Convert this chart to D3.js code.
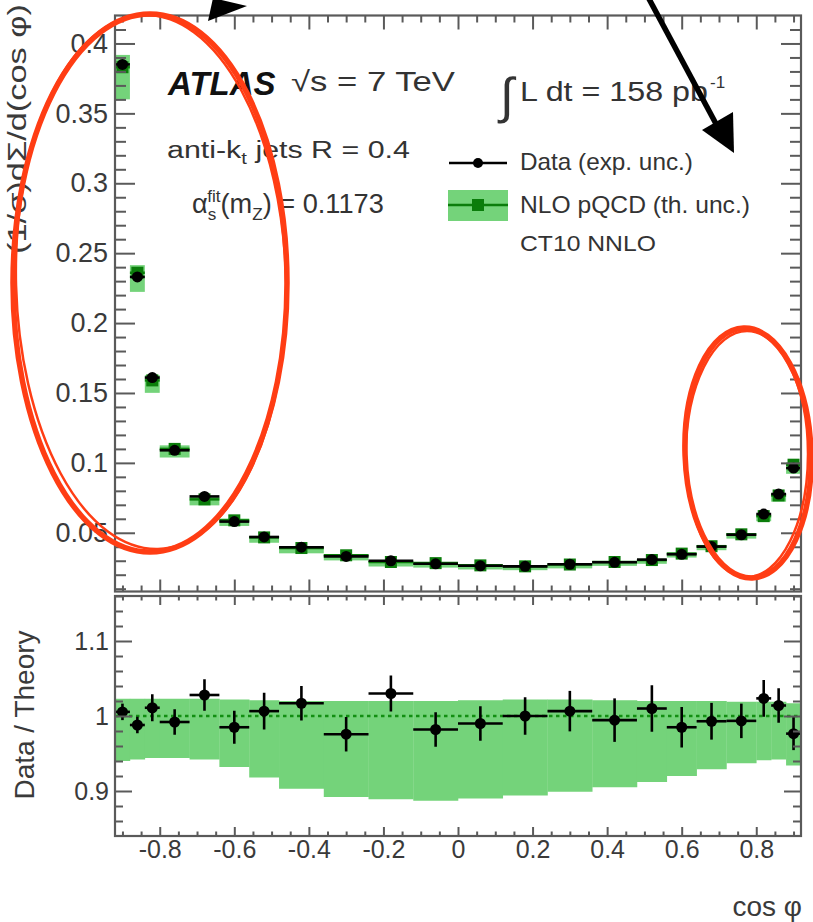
<!DOCTYPE html>
<html><head><meta charset="utf-8">
<script src="https://cdn.jsdelivr.net/npm/d3@7"></script>
<style>html,body{margin:0;padding:0;background:#fff}svg{display:block}</style>
</head><body>
<svg id="c" width="813" height="922"></svg>
<script>
// ---- data ----
const binEdges = [-0.92,-0.88,-0.84,-0.80,-0.72,-0.64,-0.56,-0.48,-0.36,-0.24,-0.12,0,0.12,0.24,0.36,0.48,0.56,0.64,0.72,0.80,0.84,0.88,0.92];
const dataValues = [0.385,0.233,0.161,0.109,0.076,0.058,0.047,0.0397,0.0331,0.0300,0.0278,0.0264,0.0260,0.0275,0.0289,0.0308,0.0346,0.0401,0.0486,0.0634,0.0777,0.0963];
const theoryValues = [0.383,0.236,0.159,0.110,0.0739,0.0589,0.0467,0.0391,0.0339,0.0291,0.0283,0.0267,0.0260,0.0273,0.0291,0.0305,0.0351,0.0404,0.0489,0.0619,0.0767,0.0987];
const ratioValues = [1.0055,0.988,1.011,0.992,1.028,0.985,1.0065,1.017,0.9757,1.030,0.982,0.990,1.000,1.0065,0.9945,1.010,0.985,0.993,0.9935,1.0235,1.014,0.9765];
const ratioErrors = [0.011,0.011,0.018,0.017,0.021,0.022,0.0245,0.023,0.023,0.024,0.023,0.023,0.025,0.027,0.029,0.031,0.027,0.0245,0.023,0.0245,0.023,0.022];
const bandLow = [0.940,0.942,0.944,0.944,0.942,0.932,0.918,0.903,0.892,0.889,0.887,0.890,0.894,0.899,0.905,0.912,0.920,0.929,0.937,0.941,0.942,0.934];
const bandHigh = [1.023,1.023,1.023,1.023,1.023,1.022,1.021,1.020,1.020,1.020,1.020,1.021,1.022,1.022,1.021,1.020,1.020,1.020,1.019,1.019,1.019,1.017];

const xMajorTicks = [-0.8,-0.6,-0.4,-0.2,0,0.2,0.4,0.6,0.8];
const xTickLabels = ["-0.8","-0.6","-0.4","-0.2","0","0.2","0.4","0.6","0.8"];
const xMinorTicks = [-0.9,-0.85,-0.75,-0.7,-0.65,-0.55,-0.5,-0.45,-0.35,-0.3,-0.25,-0.15,-0.1,-0.05,0.05,0.1,0.15,0.25,0.3,0.35,0.45,0.5,0.55,0.65,0.7,0.75,0.85,0.9];
const upperYTicks = [0.05,0.1,0.15,0.2,0.25,0.3,0.35,0.4];
const upperYTickLabels = ["0.05","0.1","0.15","0.2","0.25","0.3","0.35","0.4"];
const upperYMinor = [0.01,0.02,0.03,0.04,0.06,0.07,0.08,0.09,0.11,0.12,0.13,0.14,0.16,0.17,0.18,0.19,0.21,0.22,0.23,0.24,0.26,0.27,0.28,0.29,0.31,0.32,0.33,0.34,0.36,0.37,0.38,0.39,0.41];
const lowerYTicks = [0.9,1.0,1.1];
const lowerYTickLabels = ["0.9","1","1.1"];
const lowerYMinor = [0.86,0.88,0.92,0.94,0.96,0.98,1.02,1.04,1.06,1.08,1.12,1.14,1.16];

// ---- layout ----
const FONT = "'Liberation Sans', Arial, Helvetica, sans-serif";
const L = 115, R = 801;
const uTop = 15.5, uBot = 591.5, lTop = 596, lBot = 836;
const GREEN = "#74d37a", DKGREEN = "#0b7d0b", AXC = "#5a5a5a", TXT = "#3a3a3a";

const svg = d3.select("#c");
const x = d3.scaleLinear([-0.92, 0.92], [L, R]);
const yU = d3.scaleLinear([0.008, 0.42], [uBot, uTop]);
const yL = d3.scaleLinear([0.84, 1.16], [lBot, lTop]);

const bins = dataValues.map((d, i) => ({
  lo: binEdges[i], hi: binEdges[i + 1], mid: (binEdges[i] + binEdges[i + 1]) / 2,
  data: d, th: theoryValues[i], r: ratioValues[i], re: ratioErrors[i], bl: bandLow[i], bh: bandHigh[i]
}));

// ---- lower panel band ----
const lower = svg.append("g");
lower.selectAll("rect.band").data(bins).join("rect")
  .attr("x", d => x(d.lo)).attr("width", d => x(d.hi) - x(d.lo) + 0.3)
  .attr("y", d => yL(d.bh)).attr("height", d => yL(d.bl) - yL(d.bh))
  .attr("fill", GREEN);
lower.append("line").attr("x1", L).attr("x2", R).attr("y1", yL(1)).attr("y2", yL(1))
  .attr("stroke", "#128f12").attr("stroke-width", 2.5).attr("stroke-dasharray", "3.5,3.5");
const lp = lower.selectAll("g.pt").data(bins).join("g");
lp.append("line").attr("x1", d => x(d.lo)).attr("x2", d => x(d.hi))
  .attr("y1", d => yL(d.r)).attr("y2", d => yL(d.r)).attr("stroke", "#000").attr("stroke-width", 2.6);
lp.append("line").attr("x1", d => x(d.mid)).attr("x2", d => x(d.mid))
  .attr("y1", d => yL(d.r - d.re)).attr("y2", d => yL(d.r + d.re)).attr("stroke", "#000").attr("stroke-width", 2.6);
lp.append("circle").attr("cx", d => x(d.mid)).attr("cy", d => yL(d.r)).attr("r", 5.5).attr("fill", "#000");

// ---- upper panel ----
const upper = svg.append("g");
upper.selectAll("rect.th").data(bins).join("rect")
  .attr("x", d => x(d.lo)).attr("width", d => x(d.hi) - x(d.lo))
  .attr("y", d => yU(d.th * d.bh)).attr("height", d => yU(d.th * d.bl) - yU(d.th * d.bh))
  .attr("fill", GREEN);
upper.selectAll("line.th").data(bins).join("line")
  .attr("x1", d => x(d.lo)).attr("x2", d => x(d.hi))
  .attr("y1", d => yU(d.th)).attr("y2", d => yU(d.th)).attr("stroke", DKGREEN).attr("stroke-width", 2.5);
upper.selectAll("rect.thm").data(bins).join("rect")
  .attr("x", d => x(d.mid) - 6).attr("y", d => yU(d.th) - 6).attr("width", 12).attr("height", 12)
  .attr("fill", DKGREEN);
upper.selectAll("line.dt").data(bins).join("line")
  .attr("x1", d => x(d.lo)).attr("x2", d => x(d.hi))
  .attr("y1", d => yU(d.data)).attr("y2", d => yU(d.data)).attr("stroke", "#000").attr("stroke-width", 2.6);
upper.selectAll("circle.dt").data(bins).join("circle")
  .attr("cx", d => x(d.mid)).attr("cy", d => yU(d.data)).attr("r", 5.5).attr("fill", "#000");

// ---- axes ----
function styleAxis(g, size) {
  g.select(".domain").remove();
  g.selectAll("line").attr("stroke", AXC).attr("stroke-width", 2);
  g.selectAll("text").attr("fill", TXT).style("font-family", FONT).style("font-size", size ? size + "px" : null);
}
// upper y
svg.append("g").attr("transform", `translate(${L},0)`)
  .call(d3.axisLeft(yU).tickValues(upperYTicks).tickSize(-20).tickPadding(7).tickFormat((d, i) => upperYTickLabels[i]))
  .call(g => styleAxis(g, 27));
svg.append("g").attr("transform", `translate(${L},0)`)
  .call(d3.axisLeft(yU).tickValues(upperYMinor).tickSize(-11).tickFormat(""))
  .call(g => styleAxis(g));
svg.append("g").attr("transform", `translate(${R},0)`)
  .call(d3.axisRight(yU).tickValues(upperYTicks).tickSize(-20).tickFormat(""))
  .call(g => styleAxis(g));
svg.append("g").attr("transform", `translate(${R},0)`)
  .call(d3.axisRight(yU).tickValues(upperYMinor).tickSize(-11).tickFormat(""))
  .call(g => styleAxis(g));
// upper x
svg.append("g").attr("transform", `translate(0,${uTop})`)
  .call(d3.axisTop(x).tickValues(xMajorTicks).tickSize(-14).tickFormat("")).call(g => styleAxis(g));
svg.append("g").attr("transform", `translate(0,${uTop})`)
  .call(d3.axisTop(x).tickValues(xMinorTicks).tickSize(-7).tickFormat("")).call(g => styleAxis(g));
svg.append("g").attr("transform", `translate(0,${uBot})`)
  .call(d3.axisBottom(x).tickValues(xMajorTicks).tickSize(-12).tickFormat("")).call(g => styleAxis(g));
svg.append("g").attr("transform", `translate(0,${uBot})`)
  .call(d3.axisBottom(x).tickValues(xMinorTicks).tickSize(-6).tickFormat("")).call(g => styleAxis(g));
// lower y
svg.append("g").attr("transform", `translate(${L},0)`)
  .call(d3.axisLeft(yL).tickValues(lowerYTicks).tickSize(-17).tickPadding(6).tickFormat((d, i) => lowerYTickLabels[i]))
  .call(g => styleAxis(g, 25));
svg.append("g").attr("transform", `translate(${L},0)`)
  .call(d3.axisLeft(yL).tickValues(lowerYMinor).tickSize(-8).tickFormat(""))
  .call(g => styleAxis(g));
svg.append("g").attr("transform", `translate(${R},0)`)
  .call(d3.axisRight(yL).tickValues(lowerYTicks).tickSize(-17).tickFormat(""))
  .call(g => styleAxis(g));
svg.append("g").attr("transform", `translate(${R},0)`)
  .call(d3.axisRight(yL).tickValues(lowerYMinor).tickSize(-8).tickFormat(""))
  .call(g => styleAxis(g));
// lower x
svg.append("g").attr("transform", `translate(0,${lTop})`)
  .call(d3.axisTop(x).tickValues(xMajorTicks).tickSize(-9).tickFormat("")).call(g => styleAxis(g));
svg.append("g").attr("transform", `translate(0,${lTop})`)
  .call(d3.axisTop(x).tickValues(xMinorTicks).tickSize(-4.5).tickFormat("")).call(g => styleAxis(g));
svg.append("g").attr("transform", `translate(0,${lBot})`)
  .call(d3.axisBottom(x).tickValues(xMajorTicks).tickSize(-9).tickPadding(4).tickFormat((d, i) => xTickLabels[i]))
  .call(g => styleAxis(g, 25));
svg.append("g").attr("transform", `translate(0,${lBot})`)
  .call(d3.axisBottom(x).tickValues(xMinorTicks).tickSize(-4.5).tickFormat("")).call(g => styleAxis(g));

// frames
svg.append("rect").attr("x", L).attr("y", uTop).attr("width", R - L).attr("height", uBot - uTop)
  .attr("fill", "none").attr("stroke", AXC).attr("stroke-width", 2.2);
svg.append("rect").attr("x", L).attr("y", lTop).attr("width", R - L).attr("height", lBot - lTop)
  .attr("fill", "none").attr("stroke", AXC).attr("stroke-width", 2.2);

// ---- texts ----
function fitW(t, w) {
  const n = t.node().getComputedTextLength();
  const tx = +t.attr("x"), ty = +t.attr("y");
  t.attr("transform", `translate(${tx},${ty}) scale(${w / n},1) translate(${-tx},${-ty})`);
}
function txt(xp, yp, size, parts, opts = {}) {
  const t = svg.append("text").attr("x", xp).attr("y", yp)
    .style("font-family", FONT).style("font-size", size + "px").attr("fill", opts.fill || "#333")
    .style("font-weight", opts.weight || null).style("font-style", opts.style || null)
    .attr("text-anchor", opts.anchor || "start");
  parts.forEach(p => {
    if (typeof p === "string") t.append("tspan").text(p);
    else t.append("tspan").text(p.t).attr("dy", p.dy || null).attr("dx", p.dx || null)
      .style("font-size", p.s ? p.s + "px" : null);
  });
  if (opts.w) fitW(t, opts.w);
  return t;
}
txt(168, 95, 33, ["ATLAS"], { weight: "bold", style: "italic", fill: "#111" });
txt(291, 91, 28, ["√s = 7 TeV"], { w: 164 });
txt(500, 113, 50, ["∫"], { fill: "#333" });
txt(520, 101, 28, ["L dt = 158 pb"], { w: 188 });
txt(710, 88, 17, ["-1"]);
txt(167, 158, 24, ["anti-k", { t: "t", dy: 6, s: 16 }, { t: " jets R = 0.4", dy: -6 }], { w: 243 });
txt(192, 213, 27, ["α", { t: "s", dy: 7, s: 17 }, { t: "fit", dy: -18, dx: -9, s: 17 }, { t: "(m", dy: 11 }, { t: "Z", dy: 7, s: 17 }, { t: ") = 0.1173", dy: -7 }], { w: 201 });

// legend
svg.append("line").attr("x1", 449).attr("x2", 507).attr("y1", 163).attr("y2", 163).attr("stroke", "#000").attr("stroke-width", 2.5);
svg.append("circle").attr("cx", 478).attr("cy", 163).attr("r", 5).attr("fill", "#000");
svg.append("rect").attr("x", 448).attr("y", 190).attr("width", 60).attr("height", 31).attr("fill", GREEN);
svg.append("line").attr("x1", 448).attr("x2", 508).attr("y1", 205).attr("y2", 205).attr("stroke", DKGREEN).attr("stroke-width", 2.5);
svg.append("rect").attr("x", 472).attr("y", 199).attr("width", 12).attr("height", 12).attr("fill", DKGREEN);
txt(520, 170, 23, ["Data (exp. unc.)"], { w: 173 });
txt(520, 213, 23, ["NLO pQCD (th. unc.)"], { w: 230 });
txt(520, 251, 23, ["CT10 NNLO"], { w: 136 });

// axis titles
const yt = svg.append("g").attr("transform", "translate(26,4) rotate(-90)");
const ytT = yt.append("text").attr("x", 0).attr("y", 0).attr("text-anchor", "end")
  .style("font-family", FONT).style("font-size", "26px").attr("fill", TXT).text("(1/σ)dΣ/d(cos φ)");
{ const n = ytT.node().getComputedTextLength(); ytT.attr("transform", `scale(${250 / n},1)`); }
svg.append("g").attr("transform", "translate(34,715) rotate(-90)")
  .append("text").attr("text-anchor", "middle").style("font-family", FONT).style("font-size", "28px")
  .attr("fill", TXT).text("Data / Theory");
txt(802, 916, 28, ["cos φ"], { anchor: "end", fill: TXT });

// ---- annotations (hand-drawn marks in the reference) ----
const RED = "#ff3d14";
const ann = svg.append("g").attr("fill", "none").attr("stroke", RED);
ann.append("ellipse").attr("cx", 150).attr("cy", 283).attr("rx", 137).attr("ry", 269).attr("stroke-width", 5.5);
ann.append("ellipse").attr("cx", 151).attr("cy", 282).attr("rx", 135).attr("ry", 267).attr("stroke-width", 2.5).attr("transform", "rotate(-1.5 151 282)");
ann.append("ellipse").attr("cx", 748).attr("cy", 453).attr("rx", 63).attr("ry", 125).attr("stroke-width", 5.5).attr("transform", "rotate(-2 748 453)");
ann.append("ellipse").attr("cx", 747).attr("cy", 454).attr("rx", 61).attr("ry", 123).attr("stroke-width", 2.5);
svg.append("polygon").attr("points", "208,21 213,-2 247,6").attr("fill", "#000");
svg.append("line").attr("x1", 648).attr("y1", -3).attr("x2", 722).attr("y2", 135).attr("stroke", "#000").attr("stroke-width", 5.5);
svg.append("polygon").attr("points", "734,153 702,130 733,112").attr("fill", "#000");
</script>
</body></html>
